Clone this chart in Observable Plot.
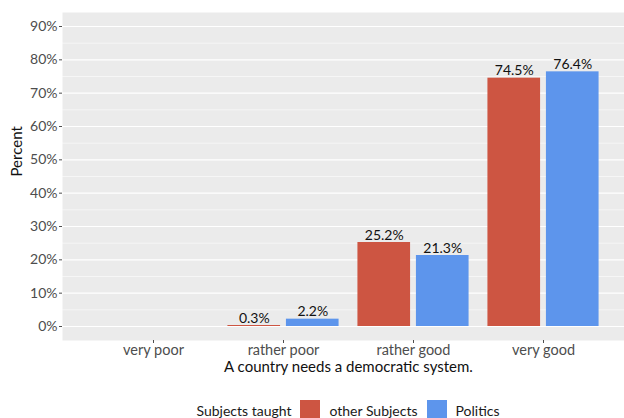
<!DOCTYPE html>
<html>
<head>
<meta charset="utf-8">
<script src="https://cdn.jsdelivr.net/npm/d3@7"></script>
<script src="https://cdn.jsdelivr.net/npm/@observablehq/plot@0.6"></script>
<style>
  html, body { margin: 0; padding: 0; background: white; overflow: hidden; }
  body { width: 624px; height: 418px; font-family: Lato, sans-serif; }
  #legend { width: 696px; display: flex; justify-content: center; align-items: center; padding-top: 8px; font-size: 14px; color: #1a1a1a; }
  #legend .key { width: 20px; height: 20px; display: inline-block; }
</style>
</head>
<body>
<div id="chart"></div>
<div id="legend"></div>
<script>
const categories = ["very poor", "rather poor", "rather good", "very good"];
const series = ["other Subjects", "Politics"];
const otherValues = [null, 0.3, 25.2, 74.5];
const politicsValues = [null, 2.2, 21.3, 76.4];
const colors = ["#CD5542", "#5D95EC"];
const yTicks = [0, 10, 20, 30, 40, 50, 60, 70, 80, 90];
const yMinorTicks = [5, 15, 25, 35, 45, 55, 65, 75, 85];
const legendTitle = "Subjects taught";
const xTitle = "A country needs a democratic system.";
const yTitle = "Percent";

const seriesValues = [otherValues, politicsValues];
const rows = categories.flatMap((c, i) =>
  seriesValues.map((vals, j) => ({category: c, series: series[j], i, j, value: vals[i]}))
).filter(d => d.value != null);

const dodge = 0.45, barW = 0.405;
const center = d => d.i + (d.j - 0.5) * dodge;

const chart = Plot.plot({
  width: 624,
  height: 392,
  marginTop: 12,
  marginBottom: 52,
  marginLeft: 62,
  marginRight: -10,
  style: {fontFamily: "Lato, sans-serif", fontSize: "13px", background: "white", overflow: "visible"},
  x: {domain: [-0.7, 3.7]},
  y: {domain: [-4.2, 94.2]},
  color: {domain: series, range: colors},
  marks: [
    Plot.frame({fill: "#EBEBEB", stroke: null}),
    Plot.ruleY(yMinorTicks, {stroke: "white", strokeWidth: 0.55}),
    Plot.ruleY(yTicks, {stroke: "white", strokeWidth: 1.1}),
    Plot.rectY(rows, {x1: d => center(d) - barW / 2, x2: d => center(d) + barW / 2, y1: 0, y2: "value", fill: "series"}),
    Plot.text(rows, {x: center, y: "value", text: d => d.value.toFixed(1) + "%", lineAnchor: "bottom", dy: -3, fontSize: 14, fill: "#111"}),
    Plot.axisY({ticks: yTicks, tickFormat: d => d + "%", tickSize: 3, tickPadding: 2, fontSize: 14, color: "#4D4D4D", label: null}),
    Plot.axisX({ticks: [0, 1, 2, 3], tickFormat: i => categories[i], tickSize: 3, tickPadding: 1, fontSize: 14.5, color: "#4D4D4D", label: null}),
    Plot.text([yTitle], {frameAnchor: "left", rotate: -90, dx: -45, fontSize: 15, fill: "#111"}),
    Plot.text([xTitle], {frameAnchor: "bottom", dy: 31, fontSize: 15, fill: "#111"})
  ]
});
document.getElementById("chart").appendChild(chart);

const legend = document.getElementById("legend");
const title = document.createElement("span");
title.textContent = legendTitle;
title.style.marginRight = "9px";
legend.appendChild(title);
series.forEach((s, j) => {
  const key = document.createElement("span");
  key.className = "key";
  key.style.background = colors[j];
  key.style.marginRight = "9px";
  legend.appendChild(key);
  const lab = document.createElement("span");
  lab.textContent = s;
  if (j < series.length - 1) lab.style.marginRight = "9px";
  legend.appendChild(lab);
});
</script>
</body>
</html>
